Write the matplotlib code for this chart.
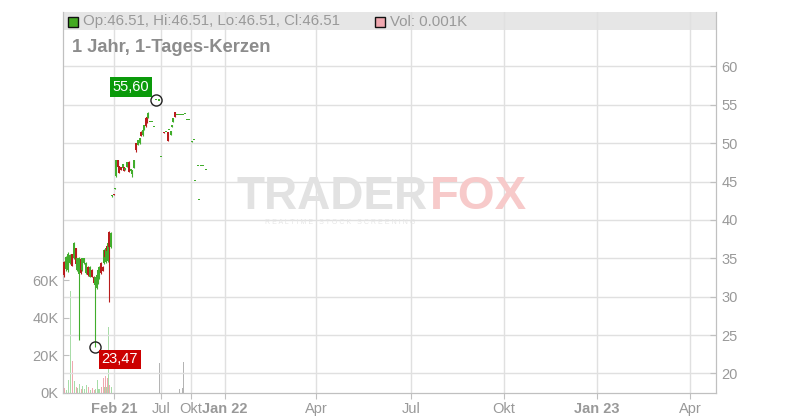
import matplotlib
matplotlib.use("Agg")
import matplotlib.pyplot as plt
from matplotlib.patches import Rectangle

# ordinal slot of each daily candle (one slot per trading day)
slot = [1, 3, 5, 7, 9, 11, 13, 14, 16, 18, 19, 21, 23, 25, 27, 29, 31, 32, 34, 35, 36, 38, 40, 41, 42, 43, 44, 45, 46, 48,
        49, 51, 52, 53, 55, 56, 58, 60, 61, 62, 64, 66, 68, 69, 71,
        73, 75, 77, 78, 80, 81, 83, 84, 85, 87, 89, 91, 93, 96,
        98, 101, 103, 105, 106, 108, 109, 110, 112, 114, 116, 118, 119, 120, 122, 124, 126,
        129, 131, 132, 135, 136, 138, 140, 143]

open_ = [34.5, 33.6, 33.5, 34.4, 35.5, 35.0, 36.3, 33.5, 33.0, 34.9, 33.5, 34.4, 33.1, 33.9, 32.6, 33.5, 32.6, 31.5, 31.1, 31.8,
         32.4, 34.4, 33.9, 34.4, 36.1, 34.5, 36.6, 34.6, 38.4, 36.5,
         43.1, 43.35, 44.0, 45.7, 47.8, 47.0, 46.9, 46.8, 46.9, 46.5, 46.9, 47.6, 46.4, 46.0, 46.8,
         50.0, 49.8, 50.0, 51.5, 51.0, 51.7, 53.3, 53.4, 53.3, 52.8, 52.8, 52.1, 55.6, 55.55,
         48.2, 51.5, 51.45, 51.5, 51.7, 51.1, 52.1, 52.8, 54.0, 53.7, 53.7, 53.7, 53.7, 53.7, 53.75, 53.05, 53.05,
         50.1, 50.35, 45.1, 47.0, 42.6, 47.0, 47.0, 46.5]

high = [34.6, 35.3, 35.8, 35.5, 35.6, 37.1, 36.4, 35.1, 35.2, 35.0, 35.1, 35.1, 34.5, 34.0, 34.0, 33.6, 32.7, 32.6, 32.9, 33.6,
        34.0, 34.5, 34.0, 36.2, 36.2, 36.4, 36.7, 37.1, 38.5, 38.4,
        43.2, 43.4, 44.2, 47.8, 47.85, 47.05, 46.95, 47.3, 46.95, 46.8, 47.6, 47.65, 46.6, 46.5, 47.8,
        50.05, 50.4, 50.7, 51.55, 51.7, 52.4, 53.35, 53.5, 54.0, 52.8, 52.8, 52.1, 55.6, 55.55,
        48.2, 51.5, 51.45, 51.5, 51.7, 51.6, 52.4, 53.3, 54.0, 53.7, 53.7, 53.7, 53.7, 53.7, 53.75, 53.05, 53.05,
        50.3, 50.35, 45.1, 47.0, 42.6, 47.0, 47.0, 46.5]

low = [32.6, 33.4, 33.2, 34.2, 34.0, 34.9, 34.0, 33.4, 24.35, 33.0, 33.4, 34.3, 33.0, 32.7, 32.5, 32.5, 31.7, 23.47, 31.0, 31.7,
       32.3, 33.0, 33.3, 34.3, 35.1, 34.4, 35.8, 34.5, 29.3, 36.4,
       43.0, 43.2, 44.0, 45.6, 46.9, 46.1, 46.5, 46.75, 46.4, 46.5, 46.85, 46.3, 46.4, 45.6, 46.7,
       48.9, 49.7, 49.9, 50.9, 50.95, 51.65, 52.1, 52.6, 53.25, 52.8, 52.8, 52.1, 55.6, 55.55,
       48.2, 51.3, 51.45, 50.3, 51.7, 51.05, 52.1, 52.75, 53.4, 53.7, 53.7, 53.7, 53.7, 53.7, 53.75, 53.05, 53.05,
       50.1, 50.35, 45.1, 47.0, 42.6, 47.0, 47.0, 46.5]

close = [32.8, 35.2, 35.5, 35.4, 34.0, 37.0, 34.3, 35.0, 35.0, 33.1, 35.0, 35.0, 34.4, 32.8, 33.9, 32.6, 31.8, 32.5, 32.8, 33.5,
         33.9, 33.1, 33.4, 36.1, 35.2, 36.3, 35.9, 37.0, 36.5, 38.3,
         43.2, 43.25, 44.15, 47.8, 46.9, 46.1, 46.5, 47.3, 46.4, 46.8, 47.6, 46.3, 46.6, 46.5, 47.8,
         49.1, 50.4, 50.7, 50.95, 51.7, 52.4, 52.2, 52.7, 53.95, 52.8, 52.8, 52.1, 55.6, 55.55,
         48.2, 51.3, 51.45, 50.3, 51.7, 51.6, 52.4, 53.3, 53.45, 53.7, 53.7, 53.7, 53.7, 53.7, 53.75, 53.05, 53.05,
         50.3, 50.35, 45.1, 47.0, 42.6, 47.0, 47.0, 46.5]

# volume in thousands
volume = [2.5, 1.5, 7, 54, 17, 6, 3, 2.5, 4.5, 2, 3.5, 2, 4, 3, 1.5, 2.5, 1.5, 2, 7, 2,
          2, 3, 8, 3, 9, 3, 8, 35, 4, 3,
          0, 0, 0, 0, 0, 0, 0, 0, 0, 0, 0, 0, 0, 0, 0,
          0, 0, 0, 0, 0, 0, 0, 0, 0, 0, 0, 0, 0, 16,
          0, 0, 0, 0, 0, 0, 0, 0, 0, 0, 2, 0, 2.5, 16.5, 0, 0, 0,
          0, 0, 0, 0, 0, 0, 0, 0]

tick_slot = [51, 98, 128, 162, 253, 348, 441, 534, 627]
tick_text = ["Feb 21", "Jul", "Okt", "Jan 22", "Apr", "Jul", "Okt", "Jan 23", "Apr"]
price_ticks = [20, 25, 30, 35, 40, 45, 50, 55, 60]
vol_ticks = [0, 20, 40, 60]

GREEN = "#41ad2c"
RED = "#b81c1c"
GRID = "#e0e0e0"
AXIS = "#c0c0c0"
TXT = "#999999"
NARROW = ["Liberation Sans Narrow", "Liberation Sans", "DejaVu Sans"]
plt.rcParams["font.family"] = ["Liberation Sans", "DejaVu Sans"]

W, H = 800, 420
fig = plt.figure(figsize=(W / 100, H / 100), dpi=100)
left_px, right_px, top_px, bot_px = 63, 716, 12, 392.7
ax = fig.add_axes([left_px / W, (H - bot_px) / H, (right_px - left_px) / W, (bot_px - top_px) / H])
ax2 = ax.twinx()

# ─── volume pane (left axis) ───
vcol = []
for o, c in zip(open_, close):
    if c > o:
        vcol.append("#a8dca8")
    elif c < o:
        vcol.append("#f0a8b0")
    else:
        vcol.append("#b4b4b4")
vs = [s for s, v in zip(slot, volume) if v > 0]
vv = [v for v in volume if v > 0]
vc = [c for c, v in zip(vcol, volume) if v > 0]
ax.bar(vs, vv, width=1.0, color=vc, linewidth=0, zorder=2)
ax.set_ylim(0, (bot_px - top_px) / 1.875)
ax.set_yticks(vol_ticks)
ax.set_yticklabels([f"{v}K" for v in vol_ticks])
ax.set_xlim(0, right_px - left_px)
ax.set_xticks(tick_slot)
ax.set_xticklabels(tick_text)
for lbl in ax.get_xticklabels():
    lbl.set_family(NARROW)
    if lbl.get_text()[-2:].isdigit():
        lbl.set_fontweight("bold")
ax.grid(axis="x", color=GRID, linewidth=1, zorder=0)
ax.set_axisbelow(True)
ax.tick_params(axis="x", direction="out", length=4, color=AXIS, labelcolor=TXT, labelsize=10.5, pad=3)
ax.tick_params(axis="y", direction="in", length=4, color=AXIS, labelcolor=TXT, labelsize=10.5, pad=3)
for lbl in ax.get_yticklabels():
    lbl.set_family(NARROW)

# header band
ax.add_patch(Rectangle((0, (bot_px - 30) / (bot_px - top_px)), 1, 1, transform=ax.transAxes,
                       facecolor="#e6e6e6", edgecolor="none", zorder=0))

# ─── candles (right axis) ───
p_lo = 20 - (bot_px - 373.4) / 7.675
p_hi = 20 + (373.4 - top_px) / 7.675
ax2.set_ylim(p_lo, p_hi)
ax2.set_yticks(price_ticks)
ax2.grid(axis="y", color=GRID, linewidth=1, zorder=0)
ax2.tick_params(axis="y", direction="in", length=4, color=AXIS, labelcolor=TXT, labelsize=10.5, pad=4)
for lbl in ax2.get_yticklabels():
    lbl.set_family(NARROW)

for s, o, hi, lo, c in zip(slot, open_, high, low, close):
    col = GREEN if c >= o else RED
    ax2.vlines(s, lo, hi, color=col, linewidth=0.8, zorder=3)
    body = max(abs(c - o), 0.14)
    ax2.bar(s, body, bottom=min(o, c), width=1.7, color=col, linewidth=0, zorder=3)

for a in (ax, ax2):
    for side in ("left", "right", "bottom"):
        a.spines[side].set_color(AXIS)
    a.spines["top"].set_visible(False)

# max / min markers
i_hi = high.index(max(high))
i_lo = low.index(min(low))
ax2.plot(slot[i_hi], high[i_hi], "o", ms=8, mfc="none", mec="#222222", mew=1, zorder=5)
ax2.plot(slot[i_lo], low[i_lo], "o", ms=8, mfc="none", mec="#222222", mew=1, zorder=5)
ax2.annotate(f"{high[i_hi]:.2f}".replace(".", ","), (slot[i_hi], high[i_hi]), xytext=(-18, 9.5),
             textcoords="offset points", ha="center", va="center", color="white", fontsize=10.5,
             bbox=dict(boxstyle="square,pad=0.18", fc="#0a9a0a", ec="none"), zorder=6)
ax2.annotate(f"{low[i_lo]:.2f}".replace(".", ","), (slot[i_lo], low[i_lo]), xytext=(18, -9),
             textcoords="offset points", ha="center", va="center", color="white", fontsize=10.5,
             bbox=dict(boxstyle="square,pad=0.18", fc="#cc0000", ec="none"), zorder=6)

# ─── header texts ───
fig.add_artist(Rectangle((68 / W, 1 - 27 / H), 10 / W, 10 / H, transform=fig.transFigure,
                         facecolor="#44aa22", edgecolor="#111111", linewidth=1))
fig.text(83 / W, 1 - 21.5 / H, "Op:46.51, Hi:46.51, Lo:46.51, Cl:46.51", color=TXT, fontsize=10.8, va="center")
fig.add_artist(Rectangle((375 / W, 1 - 27 / H), 10 / W, 10 / H, transform=fig.transFigure,
                         facecolor="#f0a8b0", edgecolor="#111111", linewidth=1))
fig.text(390 / W, 1 - 21.5 / H, "Vol: 0.001K", color=TXT, fontsize=10.8, va="center")
fig.text(72 / W, 1 - 47.5 / H, "1 Jahr, 1-Tages-Kerzen", color="#8c8c8c", fontsize=13.2,
         fontweight="bold", va="center")

# watermark
fig.text(428 / W, 1 - 209 / H, "TRADER", color="#e2e2e2", fontsize=33, fontweight="bold", ha="right",
         va="baseline", zorder=0)
fig.text(430 / W, 1 - 209 / H, "FOX", color="#f7caca", fontsize=34, fontweight="bold", ha="left",
         va="baseline", zorder=0)
fig.text(340 / W, 1 - 223 / H, "R E A L T I M E   S T O C K   S C R E E N I N G", color="#e6e6e6",
         fontsize=5, ha="center", va="center", zorder=0)

fig.savefig("out.png", dpi=100)
